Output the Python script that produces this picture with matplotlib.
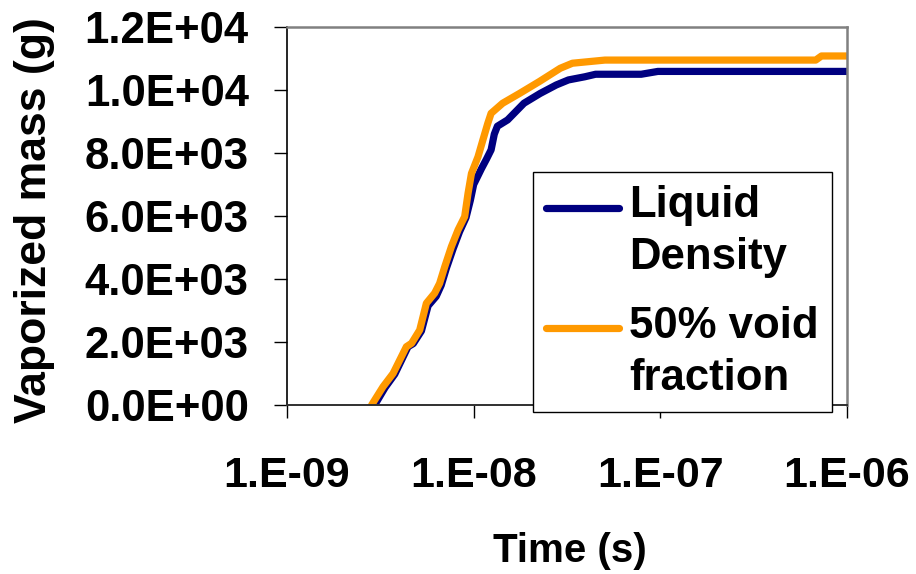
import matplotlib
matplotlib.use('Agg')
import matplotlib.pyplot as plt
import numpy as np
from matplotlib.legend_handler import HandlerLine2D
from matplotlib.ticker import NullLocator

# ---------------- data ----------------
time_liquid = [2.95e-9, 3.35e-9, 3.78e-9, 4.45e-9, 4.75e-9, 5.25e-9, 5.7e-9, 6.3e-9, 6.7e-9,
               7.15e-9, 7.75e-9, 8.4e-9, 9.1e-9, 9.6e-9, 1.0e-8, 1.1e-8, 1.17e-8, 1.24e-8,
               1.29e-8, 1.34e-8, 1.52e-8, 1.86e-8, 2.27e-8, 2.77e-8, 3.22e-8, 3.94e-8,
               4.5e-8, 7.9e-8, 9.7e-8, 1.0e-6]
mass_liquid = [0, 550, 980, 1850, 1950, 2350, 3150, 3450, 3800,
               4350, 4950, 5500, 5950, 6500, 7000, 7500, 7800, 8100,
               8600, 8850, 9050, 9580, 9890, 10160, 10320, 10420,
               10500, 10500, 10590, 10590]

time_void = [2.84e-9, 3.27e-9, 3.70e-9, 4.36e-9, 4.65e-9, 5.14e-9, 5.58e-9, 6.18e-9,
             6.57e-9, 7.0e-9, 7.6e-9, 8.25e-9, 8.95e-9, 9.33e-9, 9.73e-9, 1.055e-8,
             1.12e-8, 1.19e-8, 1.24e-8, 1.43e-8, 1.76e-8, 2.25e-8, 2.91e-8, 3.38e-8,
             4.13e-8, 5.05e-8, 5.57e-8, 6.8e-7, 7.3e-7, 1.0e-6]
mass_void = [0, 580, 1000, 1850, 1960, 2380, 3230, 3550,
             3860, 4390, 5030, 5560, 5980, 6720, 7350, 7880,
             8410, 8940, 9260, 9580, 9890, 10270, 10690, 10850,
             10900, 10950, 10950, 10950, 11080, 11080]

series_labels = ['Liquid\nDensity', '50% void\nfraction']
x_ticks = [1e-9, 1e-8, 1e-7, 1e-6]
x_tick_labels = ['1.E-09', '1.E-08', '1.E-07', '1.E-06']
y_ticks = [0, 2000, 4000, 6000, 8000, 10000, 12000]
y_tick_labels = ['0.0E+00', '2.0E+03', '4.0E+03', '6.0E+03', '8.0E+03', '1.0E+04', '1.2E+04']
x_title = 'Time (s)'
y_title = 'Vaporized mass (g)'

# ---------------- style ----------------
plt.rcParams['font.family'] = ['Liberation Sans', 'DejaVu Sans']
plt.rcParams['font.weight'] = 'bold'

W, H = 916, 574
fig = plt.figure(figsize=(W / 100, H / 100), dpi=100)
ax = fig.add_axes([287 / W, 1 - 405 / H, (847 - 287) / W, (405 - 27) / H])

l1, = ax.plot(time_liquid, mass_liquid, color='#000080', lw=5.2,
              solid_capstyle='round', solid_joinstyle='round', label=series_labels[0])
l2, = ax.plot(time_void, mass_void, color='#FF9900', lw=5.2,
              solid_capstyle='round', solid_joinstyle='round', label=series_labels[1])

ax.set_xscale('log')
ax.set_xlim(1e-9, 1e-6)
ax.set_ylim(0, 12000)
ax.set_xticks(x_ticks, x_tick_labels)
ax.set_yticks(y_ticks, y_tick_labels)
ax.xaxis.set_minor_locator(NullLocator())

for s in ['top', 'right']:
    ax.spines[s].set_color('#808080')
    ax.spines[s].set_linewidth(1.8)
ax.spines['left'].set_color('black')
ax.spines['left'].set_linewidth(1.2)
ax.spines['bottom'].set_color('#303030')
ax.spines['bottom'].set_linewidth(1.4)

ax.tick_params(axis='both', direction='out', length=9.5, width=1.0, color='black')
ax.tick_params(axis='x', pad=27, labelsize=31)
ax.tick_params(axis='y', pad=18, labelsize=31.5)

ax.set_xlabel(x_title, fontsize=29, fontweight='bold')
ax.xaxis.set_label_coords(0.505, -0.386)
ax.xaxis.label.set_va('center')
ax.set_ylabel(y_title, fontsize=32, fontweight='bold')
ax.yaxis.set_label_coords(-0.451, 0.489)
ax.yaxis.label.set_va('center')


class RaisedLine(HandlerLine2D):
    def __init__(self, raise_pt, **kw):
        super().__init__(**kw)
        self.raise_pt = raise_pt

    def create_artists(self, legend, orig_handle, xdescent, ydescent, width,
                       height, fontsize, trans):
        arts = super().create_artists(legend, orig_handle, xdescent, ydescent,
                                      width, height, fontsize, trans)
        for a in arts:
            a.set_ydata(np.asarray(a.get_ydata(), dtype=float) + self.raise_pt)
        return arts


leg = ax.legend(handles=[l1, l2], loc='upper left', bbox_to_anchor=(0.439, 0.616),
                borderaxespad=0, fontsize=31.5, handlelength=1.67, handletextpad=0.23,
                borderpad=0.3, labelspacing=0.62, frameon=True, fancybox=False,
                edgecolor='black', framealpha=1,
                handler_map={l1: RaisedLine(18.0), l2: RaisedLine(18.0)})
leg.get_frame().set_linewidth(1.0)
for t in leg.get_texts():
    t.set_linespacing(1.35)

fig.savefig('out.png', dpi=100)
